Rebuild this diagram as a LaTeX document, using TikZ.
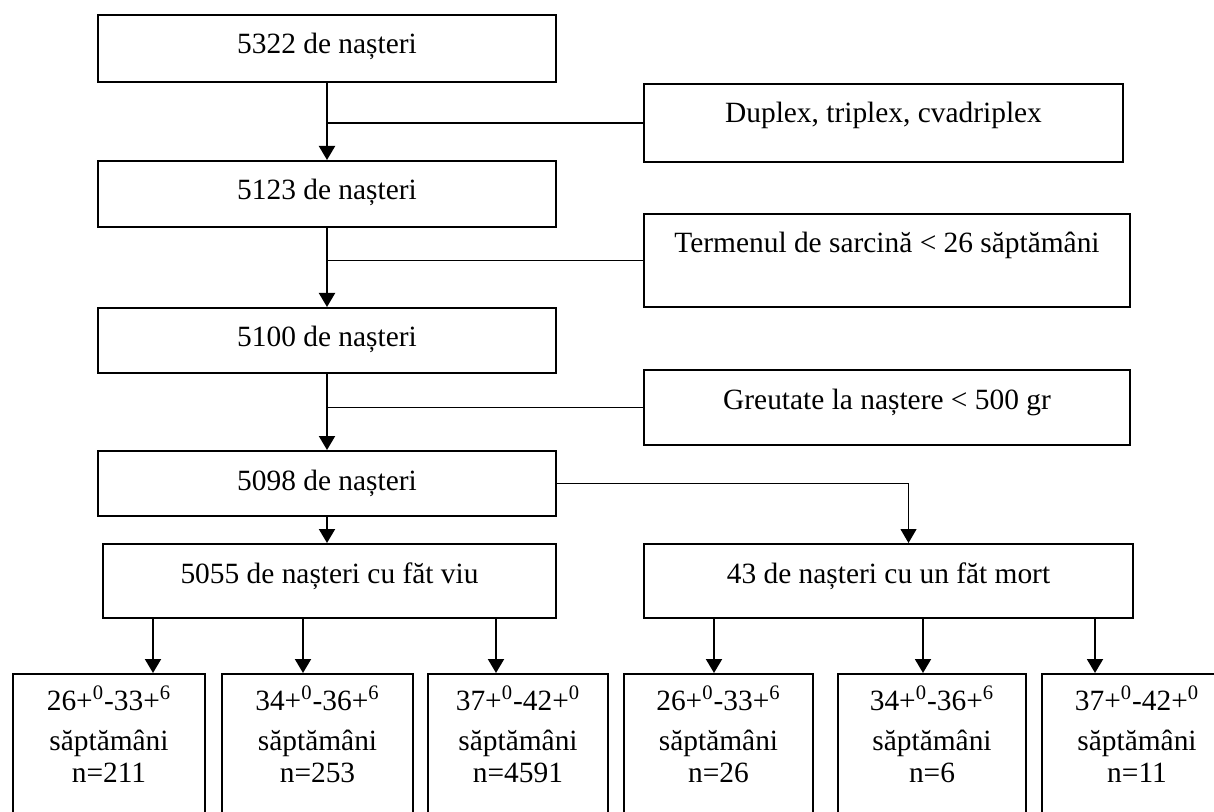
\documentclass[tikz,border=0pt]{standalone}
\usepackage{fontspec}
\setmainfont{Liberation Serif}
\usepackage{tikz}
\usetikzlibrary{positioning}
\usetikzlibrary{arrows.meta}

\begin{document}
\begin{tikzpicture}[x=0.5pt, y=-0.5pt,
        font=\fontsize{14.7pt}{16pt}\selectfont,
        box/.style={draw, line width=1pt, inner sep=0pt, anchor=north west, text height=19.5pt},
        leaf/.style={box, align=center, text height=18pt, text depth=70pt},
        arr/.style={line width=1pt, -{Triangle[width=8pt, length=7pt]}},
        side/.style={line width=0.75pt}]
        \useasboundingbox (0,0) rectangle (1214,812);
        \clip (0,0) rectangle (1214,812);
        \begin{scope}
            \node[box, minimum width=229pt, text depth=14pt] (n5322) at (97,14) {5322 de nașteri};
            \node[box, minimum width=229pt, text depth=13.5pt] (n5123) at (97,160) {5123 de nașteri};
            \node[box, minimum width=229pt, text depth=13pt] (n5100) at (97,307) {5100 de nașteri};
            \node[box, minimum width=229pt, text depth=13pt] (n5098) at (97,450) {5098 de nașteri};
            \node[box, minimum width=226.5pt, text depth=17.5pt] (viu) at (102,543) {5055 de nașteri cu făt viu};
            \node[box, minimum width=244.5pt, text depth=17.5pt] (mort) at (643,543) {43 de nașteri cu un făt mort};
        \end{scope}
        \begin{scope}
            \node[box, minimum width=239.5pt, text depth=19.5pt] (multi) at (643,83) {Duplex, triplex, cvadriplex};
            \node[box, minimum width=243pt, text depth=27pt] (termen) at (643,213) {Termenul de sarcină < 26 săptămâni};
            \node[box, minimum width=243pt, text depth=18pt] (greutate) at (643,369) {Greutate la naștere < 500 gr};
        \end{scope}
        \begin{scope}
            \node[leaf, text width=96pt] (v1) at (12,673) {26+\textsuperscript{0}-33+\textsuperscript{6}\\[4pt] săptămâni\\ n=211};
            \node[leaf, text width=95.5pt] (v2) at (221,673) {34+\textsuperscript{0}-36+\textsuperscript{6}\\[4pt] săptămâni\\ n=253};
            \node[leaf, text width=90pt] (v3) at (427,673) {37+\textsuperscript{0}-42+\textsuperscript{0}\\[4pt] săptămâni\\ n=4591};
            \node[leaf, text width=94.5pt] (m1) at (623,673) {26+\textsuperscript{0}-33+\textsuperscript{6}\\[4pt] săptămâni\\ n=26};
            \node[leaf, text width=94pt] (m2) at (837,673) {34+\textsuperscript{0}-36+\textsuperscript{6}\\[4pt] săptămâni\\ n=6};
            \node[leaf, text width=95pt] (m3) at (1041,673) {37+\textsuperscript{0}-42+\textsuperscript{0}\\[4pt] săptămâni\\ n=11};
        \end{scope}
        \draw[arr] (n5322.south) -- (n5123.north);
        \draw[arr] (n5123.south) -- (n5100.north);
        \draw[arr] (n5100.south) -- (n5098.north);
        \draw[side] (n5322.south |- multi.west) -- (multi.west);
        \draw[side] (n5123.south |- termen.west) -- (termen.west);
        \draw[side] (n5100.south |- greutate.west) -- (greutate.west);
        \draw[arr] (n5098.south) -- (n5098.south |- viu.north);
        \draw[arr, line width=0.6pt] (n5098.east) -| ([xshift=10pt]mort.north);
        \foreach \x/\b [count=\i] in {153/v1, 303/v2, 496/v3} {
            \coordinate (pv\i) at (\x,0);
            \draw[arr] (viu.south -| pv\i) -- (\b.north -| pv\i);
        }
        \foreach \x/\b [count=\i] in {714/m1, 923/m2, 1095/m3} {
            \coordinate (pm\i) at (\x,0);
            \draw[arr] (mort.south -| pm\i) -- (\b.north -| pm\i);
        }
\end{tikzpicture}
\end{document}
